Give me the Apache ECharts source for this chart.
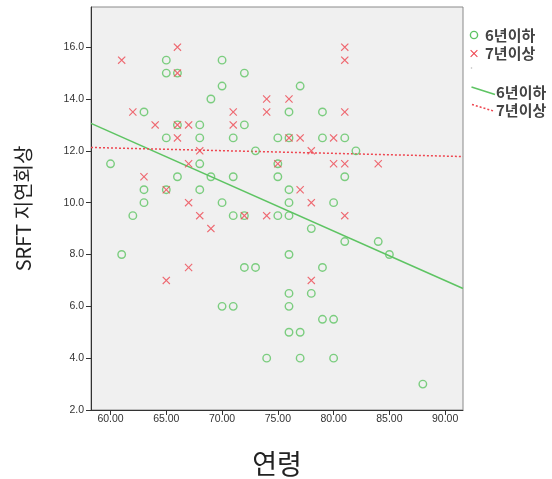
<!DOCTYPE html>
<html>
<head>
<meta charset="utf-8">
<script src="https://cdn.jsdelivr.net/npm/echarts@6/dist/echarts.min.js"></script>
<style>html,body{margin:0;padding:0;background:#fff;}#c{width:552px;height:479px;}</style>
</head>
<body>
<div id="c"></div>
<script>
// ---- data ----
var seriesNames = ['6년이하', '7년이상'];
var xTicks = [60, 65, 70, 75, 80, 85, 90];
var yTicks = [2, 4, 6, 8, 10, 12, 14, 16];
var groupUpTo6 = [
  [65,15.5],[65,15.0],[66,15.0],[69,14.0],[63,13.5],[66,13.0],[68,13.0],[65,12.5],[68,12.5],
  [70,15.5],[72,15.0],[70,14.5],[77,14.5],[76,13.5],[79,13.5],[72,13.0],[71,12.5],[75,12.5],
  [76,12.5],[79,12.5],[81,12.5],[60,11.5],[68,11.5],[66,11.0],[69,11.0],[63,10.5],[65,10.5],
  [68,10.5],[63,10.0],[62,9.5],[61,8.0],[73,12.0],[75,11.5],[71,11.0],[75,11.0],[76,10.5],
  [70,10.0],[76,10.0],[80,10.0],[71,9.5],[72,9.5],[75,9.5],[76,9.5],[78,9.0],[76,8.0],
  [72,7.5],[73,7.5],[79,7.5],[82,12.0],[81,11.0],[81,8.5],[84,8.5],[85,8.0],[76,6.5],
  [78,6.5],[70,6.0],[71,6.0],[76,6.0],[79,5.5],[80,5.5],[76,5.0],[77,5.0],[74,4.0],
  [77,4.0],[80,4.0],[88,3.0]
];
var group7Plus = [
  [66,16.0],[61,15.5],[66,15.0],[62,13.5],[64,13.0],[66,13.0],[67,13.0],[66,12.5],
  [74,14.0],[76,14.0],[71,13.5],[74,13.5],[71,13.0],[76,12.5],[77,12.5],[80,12.5],
  [81,16.0],[81,15.5],[81,13.5],[68,12.0],[67,11.5],[63,11.0],[65,10.5],[67,10.0],
  [68,9.5],[69,9.0],[67,7.5],[78,12.0],[75,11.5],[80,11.5],[77,10.5],[78,10.0],
  [72,9.5],[74,9.5],[81,11.5],[84,11.5],[81,9.5],[65,7.0],[78,7.0]
];
var fitUpTo6 = [[58.25,13.06],[91.6,6.69]];
var fit7Plus = [[58.25,12.13],[91.6,11.78]];
// ---------------------------------------

var GREEN = '#5ec463';
var RED = '#ee4650';
var XPATH = 'path://M1,0L5,4L9,0L10,1L6,5L10,9L9,10L5,6L1,10L0,9L4,5L0,1Z';
var KR = '"Noto Sans CJK KR", "Noto Sans", sans-serif';
var LAT = '"Liberation Sans", Arial, sans-serif';

function xShape(cx, cy, s) {
  var p = [[1,0],[5,4],[9,0],[10,1],[6,5],[10,9],[9,10],[5,6],[1,10],[0,9],[4,5],[0,1]];
  return p.map(function (q) { return [cx + (q[0] - 5) * s, cy + (q[1] - 5) * s]; });
}
function legendText(x, y, t) {
  return { type: 'text', x: x, y: y, style: { text: t, fontFamily: KR, fontSize: 15, fontWeight: 'bold', fill: '#444', verticalAlign: 'middle' } };
}

var chart = echarts.init(document.getElementById('c'));
chart.setOption({
  animation: false,
  backgroundColor: '#ffffff',
  grid: {
    left: 91, right: 89, top: 7, bottom: 69,
    outerBoundsMode: 'none', containLabel: false,
    show: true, backgroundColor: '#f0f0f0', borderColor: '#8a8a8a', borderWidth: 1
  },
  xAxis: {
    type: 'value', min: 58.25, max: 91.6,
    name: '연령', nameLocation: 'middle', nameGap: 40,
    nameTextStyle: { fontFamily: KR, fontSize: 27, color: '#222' },
    axisLine: { show: true, onZero: false, lineStyle: { color: '#333', width: 1 } },
    axisTick: { show: true, length: 5, customValues: xTicks, lineStyle: { color: '#333' } },
    axisLabel: { customValues: xTicks, margin: 4, fontFamily: LAT, fontSize: 10.5, color: '#333',
      formatter: function (v) { return Number(v).toFixed(2); } },
    splitLine: { show: false }
  },
  yAxis: {
    type: 'value', min: 2, max: 17.55,
    name: 'SRFT 지연회상', nameLocation: 'middle', nameGap: 58,
    nameTextStyle: { fontFamily: KR, fontSize: 20, color: '#222' },
    axisLine: { show: true, onZero: false, lineStyle: { color: '#333', width: 1 } },
    axisTick: { show: true, length: 5, customValues: yTicks, lineStyle: { color: '#333' } },
    axisLabel: { customValues: yTicks, margin: 7, fontFamily: LAT, fontSize: 10.5, color: '#333',
      formatter: function (v) { return Number(v).toFixed(1); } },
    splitLine: { show: false }
  },
  series: [
    {
      name: seriesNames[0], type: 'scatter', data: groupUpTo6,
      symbol: 'circle', symbolSize: 7.5,
      itemStyle: { color: 'rgba(0,0,0,0)', borderColor: GREEN, borderWidth: 1.4 },
      z: 3
    },
    {
      name: seriesNames[1], type: 'scatter', data: group7Plus,
      symbol: XPATH, symbolSize: 8,
      itemStyle: { color: RED },
      z: 4
    },
    {
      name: seriesNames[0] + ' fit', type: 'line', data: fitUpTo6,
      showSymbol: false, symbol: 'none',
      lineStyle: { color: GREEN, width: 1.6, type: 'solid' }, z: 2
    },
    {
      name: seriesNames[1] + ' fit', type: 'line', data: fit7Plus,
      showSymbol: false, symbol: 'none',
      lineStyle: { color: RED, width: 1.5, type: [2, 2] }, z: 2
    }
  ],
  graphic: [
    { type: 'circle', shape: { cx: 474, cy: 35, r: 3.6 }, style: { fill: 'none', stroke: GREEN, lineWidth: 1.4 } },
    { type: 'polygon', shape: { points: xShape(474, 53.5, 0.75) }, style: { fill: RED } },
    legendText(485, 35, seriesNames[0]),
    legendText(485, 53.5, seriesNames[1]),
    { type: 'circle', shape: { cx: 471.5, cy: 68, r: 0.8 }, style: { fill: '#bbbbbb' } },
    { type: 'line', shape: { x1: 471.5, y1: 87, x2: 495, y2: 94.5 }, style: { stroke: GREEN, lineWidth: 1.6 } },
    { type: 'line', shape: { x1: 472, y1: 104.5, x2: 495, y2: 111.5 }, style: { stroke: RED, lineWidth: 1.5, lineDash: [2, 2] } },
    legendText(496, 92, seriesNames[0]),
    legendText(496, 110.5, seriesNames[1])
  ]
});
</script>
</body>
</html>
